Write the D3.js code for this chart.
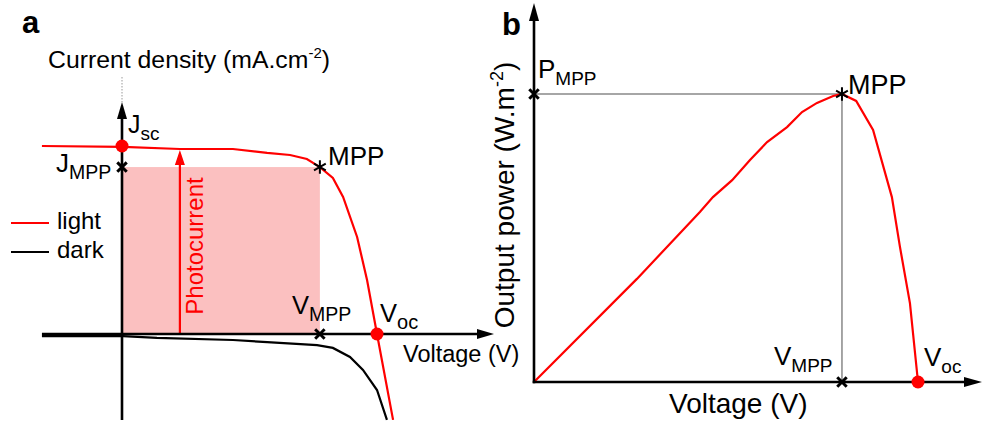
<!DOCTYPE html>
<html>
<head>
<meta charset="utf-8">
<script src="https://cdn.jsdelivr.net/npm/d3@7"></script>
<style>
  body { margin: 0; background: #fff; }
  svg { display: block; font-family: "Liberation Sans", Arial, sans-serif; }
</style>
</head>
<body>
<svg id="chart"></svg>
<script>
var width = 982,
    height = 423;

// Panel a: J-V curves (voltage normalised to Voc, current to Jsc)
var lightV = [-0.314, 0.004, 0.227, 0.435, 0.569, 0.659, 0.725, 0.776, 0.827, 0.867, 0.922, 0.961, 1.0, 1.063];
var lightJ = [1.0, 0.995, 0.984, 0.984, 0.963, 0.952, 0.931, 0.888, 0.830, 0.729, 0.516, 0.287, 0, -0.457];
var darkV = [-0.314, 0.004, 0.137, 0.435, 0.569, 0.765, 0.827, 0.894, 0.945, 1.0, 1.039];
var darkJ = [-0.011, -0.011, -0.021, -0.032, -0.043, -0.059, -0.074, -0.122, -0.191, -0.298, -0.457];
var mppA = [0.776, 0.888];   // [V, J]
var vocA = 1.0;
var jscA = 1.0;
var photoV = 0.227;

// Panel b: P-V curve (voltage normalised to Voc, power to Pmpp)
var powerV = [0, 0.268, 0.432, 0.466, 0.516, 0.5625, 0.607, 0.659, 0.698, 0.737, 0.779, 0.802, 0.839, 0.883, 0.932, 0.953, 0.979, 1.0];
var powerP = [0, 0.358, 0.590, 0.642, 0.701, 0.771, 0.833, 0.885, 0.9375, 0.969, 0.993, 1.0, 0.976, 0.875, 0.642, 0.469, 0.274, 0];
var mppB = [0.802, 1.0];
var vocB = 1.0;

var red = '#ff0000';

var svg = d3.select('#chart')
  .attr('width', width)
  .attr('height', height);

// scales
var xA = d3.scaleLinear([0, 1], [122, 377]);
var yA = d3.scaleLinear([0, 1], [334, 146]);
var xB = d3.scaleLinear([0, 1], [534, 918]);
var yB = d3.scaleLinear([0, 1], [382, 94]);

var lineA = d3.line().x(d => xA(d[0])).y(d => yA(d[1]));
var lineB = d3.line().x(d => xB(d[0])).y(d => yB(d[1]));

function arrowHead(g, tipX, tipY, dir, len, half, color) {
  // dir: 'up' or 'right'
  var pts = dir === 'up'
    ? [[tipX, tipY], [tipX - half, tipY + len], [tipX + half, tipY + len]]
    : [[tipX, tipY], [tipX - len, tipY - half], [tipX - len, tipY + half]];
  g.append('path')
    .attr('d', 'M' + pts.join('L') + 'Z')
    .attr('fill', color);
}

function timesMark(g, x, y) {
  g.append('path')
    .attr('d', d3.symbol(d3.symbolTimes, 60)())
    .attr('transform', 'translate(' + x + ',' + y + ')')
    .attr('stroke', '#000')
    .attr('stroke-width', 3)
    .attr('fill', 'none');
}

function starMark(g, x, y) {
  g.append('path')
    .attr('d', d3.symbol(d3.symbolAsterisk, 130)())
    .attr('transform', 'translate(' + x + ',' + y + ')')
    .attr('stroke', '#000')
    .attr('stroke-width', 2)
    .attr('fill', 'none');
}

function subLabel(g, x, y, main, sub, size, subSize, color) {
  var t = g.append('text')
    .attr('x', x)
    .attr('y', y)
    .attr('font-size', size)
    .attr('fill', color || '#000');
  t.append('tspan').text(main);
  t.append('tspan').attr('font-size', subSize).attr('dy', size * 0.28).text(sub);
  return t;
}

// ---------- panel a ----------
var ga = svg.append('g');

// MPP rectangle
ga.append('rect')
  .attr('x', xA(0))
  .attr('y', yA(mppA[1]))
  .attr('width', xA(mppA[0]) - xA(0))
  .attr('height', yA(0) - yA(mppA[1]))
  .attr('fill', '#fbc0c0');

// photocurrent arrow
var photoTop = yA(lightJ[lightV.indexOf(photoV)]);
ga.append('line')
  .attr('x1', xA(photoV)).attr('x2', xA(photoV))
  .attr('y1', yA(0)).attr('y2', photoTop + 12)
  .attr('stroke', red).attr('stroke-width', 2.2);
arrowHead(ga, xA(photoV), photoTop + 1, 'up', 15, 5, red);

ga.append('text')
  .attr('transform', 'translate(' + (xA(photoV) + 23) + ',' + 246 + ') rotate(-90)')
  .attr('text-anchor', 'middle')
  .attr('font-size', 24)
  .attr('fill', red)
  .text('Photocurrent');

// curves
ga.append('path')
  .datum(darkV.map((v, i) => [v, darkJ[i]]))
  .attr('d', lineA)
  .attr('fill', 'none')
  .attr('stroke', '#000')
  .attr('stroke-width', 2.2);

ga.append('path')
  .datum(lightV.map((v, i) => [v, lightJ[i]]))
  .attr('d', lineA)
  .attr('fill', 'none')
  .attr('stroke', red)
  .attr('stroke-width', 2.2);

// axes
ga.append('line')
  .attr('x1', xA(0)).attr('x2', xA(0))
  .attr('y1', 420).attr('y2', 116)
  .attr('stroke', '#000').attr('stroke-width', 2.6);
arrowHead(ga, xA(0), 102, 'up', 17, 5, '#000');
ga.append('line')
  .attr('x1', xA(0)).attr('x2', xA(0))
  .attr('y1', 77).attr('y2', 102)
  .attr('stroke', '#999').attr('stroke-width', 1)
  .attr('stroke-dasharray', '1.5,1.5');

ga.append('line')
  .attr('x1', xA(lightV[0])).attr('x2', 478)
  .attr('y1', yA(0)).attr('y2', yA(0))
  .attr('stroke', '#000').attr('stroke-width', 2.6);
arrowHead(ga, 494, yA(0), 'right', 17, 5, '#000');

// markers
ga.append('circle').attr('cx', xA(0)).attr('cy', yA(jscA)).attr('r', 6.5).attr('fill', red);
ga.append('circle').attr('cx', xA(vocA)).attr('cy', yA(0)).attr('r', 6.5).attr('fill', red);
timesMark(ga, xA(0), yA(mppA[1]));
timesMark(ga, xA(mppA[0]), yA(0));
starMark(ga, xA(mppA[0]), yA(mppA[1]));

// labels
ga.append('text')
  .attr('x', 22).attr('y', 33)
  .attr('font-size', 31).attr('font-weight', 'bold')
  .text('a');

var cd = ga.append('text').attr('x', 48).attr('y', 68).attr('font-size', 24.8);
cd.append('tspan').text('Current density (mA.cm');
cd.append('tspan').attr('font-size', 15).attr('dy', -10).text('-2');
cd.append('tspan').attr('dy', 10).text(')');

subLabel(ga, 128, 133, 'J', 'sc', 25, 19);
subLabel(ga, 56, 172, 'J', 'MPP', 26, 19.5);
ga.append('text').attr('x', 328).attr('y', 165).attr('font-size', 26).text('MPP');
subLabel(ga, 292, 314, 'V', 'MPP', 25.5, 19.5);
subLabel(ga, 380, 322, 'V', 'oc', 25.5, 20);
ga.append('text').attr('x', 403).attr('y', 362).attr('font-size', 23.5).text('Voltage (V)');

// legend
var legend = [['light', red, 223], ['dark', '#000', 252]];
legend.forEach(function(d) {
  ga.append('line')
    .attr('x1', 11).attr('x2', 49)
    .attr('y1', d[2]).attr('y2', d[2])
    .attr('stroke', d[1]).attr('stroke-width', 2.2);
  ga.append('text')
    .attr('x', 57).attr('y', d[2] + 6)
    .attr('font-size', 24)
    .text(d[0]);
});

// ---------- panel b ----------
var gb = svg.append('g');

// guide lines to MPP
gb.append('line')
  .attr('x1', xB(0)).attr('x2', xB(mppB[0]))
  .attr('y1', yB(mppB[1])).attr('y2', yB(mppB[1]))
  .attr('stroke', '#888').attr('stroke-width', 1.5);
gb.append('line')
  .attr('x1', xB(mppB[0])).attr('x2', xB(mppB[0]))
  .attr('y1', yB(mppB[1])).attr('y2', yB(0))
  .attr('stroke', '#888').attr('stroke-width', 1.5);

gb.append('path')
  .datum(powerV.map((v, i) => [v, powerP[i]]))
  .attr('d', lineB)
  .attr('fill', 'none')
  .attr('stroke', red)
  .attr('stroke-width', 2.2);

// axes
gb.append('line')
  .attr('x1', xB(0)).attr('x2', xB(0))
  .attr('y1', yB(0) + 1.3).attr('y2', 18)
  .attr('stroke', '#000').attr('stroke-width', 2.6);
arrowHead(gb, xB(0), 3, 'up', 18, 5, '#000');
gb.append('line')
  .attr('x1', xB(0) - 1.3).attr('x2', 966)
  .attr('y1', yB(0)).attr('y2', yB(0))
  .attr('stroke', '#000').attr('stroke-width', 2.6);
arrowHead(gb, 982, yB(0), 'right', 18, 5, '#000');

// markers
gb.append('circle').attr('cx', xB(vocB)).attr('cy', yB(0)).attr('r', 6.5).attr('fill', red);
timesMark(gb, xB(0), yB(mppB[1]));
timesMark(gb, xB(mppB[0]), yB(0));
starMark(gb, xB(mppB[0]), yB(mppB[1]));

// labels
gb.append('text')
  .attr('x', 502).attr('y', 35)
  .attr('font-size', 31).attr('font-weight', 'bold')
  .text('b');

var op = gb.append('text')
  .attr('transform', 'translate(514,195) rotate(-90)')
  .attr('text-anchor', 'middle')
  .attr('font-size', 28);
op.append('tspan').text('Output power (W.m');
op.append('tspan').attr('font-size', 18).attr('dy', -11).text('-2');
op.append('tspan').attr('dy', 11).text(')');

subLabel(gb, 538, 78, 'P', 'MPP', 26, 19);
gb.append('text').attr('x', 848).attr('y', 94).attr('font-size', 27).text('MPP');
subLabel(gb, 774, 365, 'V', 'MPP', 26, 19);
subLabel(gb, 924, 366, 'V', 'oc', 26, 19);
gb.append('text').attr('x', 669).attr('y', 413).attr('font-size', 28).text('Voltage (V)');
</script>
</body>
</html>
